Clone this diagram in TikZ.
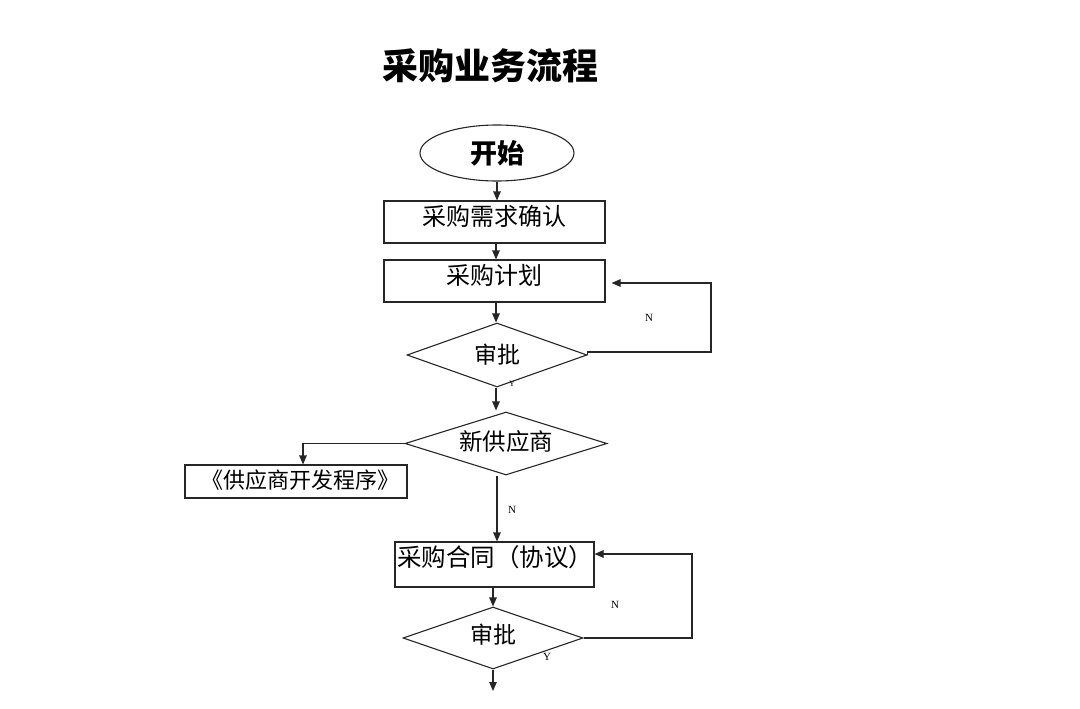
\documentclass[tikz,border=0pt]{standalone}
\usepackage{fontspec}
\setmainfont{Liberation Serif}
\newfontfamily\cjk{Noto Sans CJK SC}
\usetikzlibrary{shapes.geometric,arrows.meta,calc}
\begin{document}
\begin{tikzpicture}[x=1pt,y=-1pt,
  ln/.style={draw=black!85, line width=1.1pt},
  arr/.style={ln, -{Triangle[length=9pt,width=7.5pt]}},
  box/.style={ln, rectangle, inner sep=0pt},
  dia/.style={ln, diamond, inner sep=0pt},
  txt/.style={font=\cjk\fontsize{24}{26}\selectfont, inner sep=0pt},
  lab/.style={font=\fontsize{11}{11}\selectfont, inner sep=0pt}]
\useasboundingbox (0,0) rectangle (1080,709);
% title
\node[font=\cjk\bfseries\fontsize{36}{38}\selectfont, inner sep=0pt] (title) at (490,66) {采购业务流程};
% start
\node[ln, ellipse, minimum width=154pt, minimum height=56pt, inner sep=0pt,
      font=\cjk\bfseries\fontsize{27}{29}\selectfont] (e) at (497,153) {开始};
% boxes
\node[box, minimum width=221pt, minimum height=42pt] (r1) at (494.5,222) {};
\node[txt] (t1) at (494.5,216) {采购需求确认};
\node[box, minimum width=221pt, minimum height=42pt] (r2) at (494.5,281) {};
\node[txt] (t2) at (494.5,275) {采购计划};
\node[dia, minimum width=180pt, minimum height=64pt] (d1) at (497,355) {};
\node[txt, font=\cjk\fontsize{23}{25}\selectfont] (t3) at (497,355) {审批};
\node[dia, minimum width=202pt, minimum height=63pt] (d2) at (506,443.5) {};
\node[txt, font=\cjk\fontsize{23.5}{25}\selectfont] (t4) at (506,442) {新供应商};
\node[box, minimum width=222pt, minimum height=33pt] (r3) at (296,481.5) {};
\node[txt, font=\cjk\fontsize{22}{24}\selectfont] (t5) at (300,480) {《供应商开发程序》};
\node[box, minimum width=199pt, minimum height=45pt] (r4) at (494.5,564.5) {};
\node[txt, anchor=west, font=\cjk\fontsize{24.5}{26}\selectfont] (t6) at (397,557) {采购合同（协议）};
\node[dia, minimum width=180pt, minimum height=62pt] (d3) at (493,638) {};
\node[txt, font=\cjk\fontsize{23}{25}\selectfont] (t7) at (493,635) {审批};
% labels
\node[lab] (n1) at (649,318) {N};
\node[lab, font=\fontsize{8}{8}\selectfont] (y1) at (512,384) {Y};
\node[lab] (n2) at (512,510) {N};
\node[lab] (n3) at (615,605) {N};
\node[lab] (y3) at (547,657) {Y};
\coordinate (endp) at (493,691);
% connectors
\draw[arr] (e.south -| 497,0) -- (497,0 |- r1.north);
\draw[arr] (r1.south -| 496,0) -- (496,0 |- r2.north);
\draw[arr] (r2.south -| 496,0) -- (d1.north -| 496,0);
\draw[arr] (d1.south -| 496,0) -- ($(d2.north -| 496,0)+(0,-1)$);
\draw[arr] (d1.east) -- ++(0,-3) -- (711,352) -- (711,283) -- ($(r2.east)+(6,2)$);
\draw[arr] (d2.west) -- (303,443.5) -- (303,0 |- r3.north);
\draw[arr] (d2.south -| 497,0) -- (497,0 |- r4.north);
\draw[arr] (r4.south -| 493,0) -- (d3.north);
\draw[arr] (d3.east) -- (692,638) -- (692,554) -- (r4.east |- 0,554);
\draw[arr] (d3.south) -- (endp);
\end{tikzpicture}
\end{document}
